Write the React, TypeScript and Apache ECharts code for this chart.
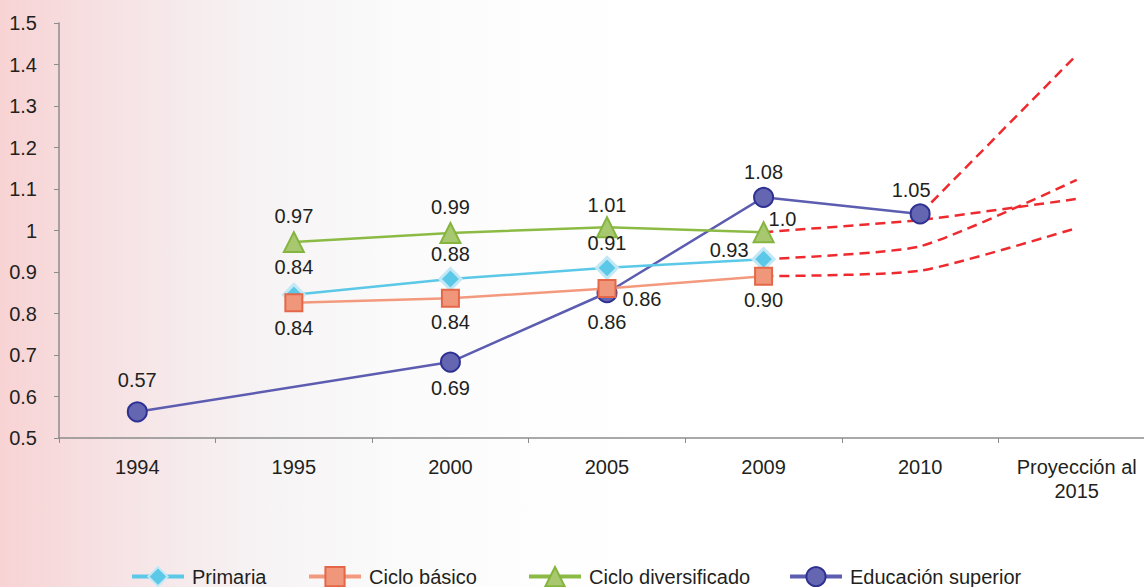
import React, { useEffect, useRef } from "react";
import * as echarts from "echarts";

const categories = ["1994", "1995", "2000", "2005", "2009", "2010", "Proyección al\n2015"];
const yMin = 0.5;
const yMax = 1.5;
const yStep = 0.1;

const primaria = [null, 0.845, 0.883, 0.91, 0.931, null, null];
const primariaLabels = [null, "0.84", "0.88", "0.91", "0.93", null, null];
const cicloBasico = [null, 0.826, 0.837, 0.86, 0.89, null, null];
const cicloBasicoLabels = [null, "0.84", "0.84", "0.86", "0.90", null, null];
const cicloDiversificado = [null, 0.972, 0.994, 1.008, 0.996, null, null];
const cicloDiversificadoLabels = [null, "0.97", "0.99", "1.01", "1.0", null, null];
const educacionSuperior = [0.563, null, 0.683, 0.85, 1.08, 1.04, null];
const educacionSuperiorLabels = ["0.57", null, "0.69", "0.86", "1.08", "1.05", null];

// projections: [2010, 2015]
const proyPrimaria = [0.962, 1.122];
const proyBasico = [0.903, 1.006];
const proyDiversificado = [1.025, 1.076];
// projection: [2015]
const proySuperior = [1.423];

const legendNames = ["Primaria", "Ciclo básico", "Ciclo diversificado", "Educación superior"];

const FONT = "'Liberation Sans', Arial, Helvetica, sans-serif";
const TEXT = "#231f20";
const FS = 20;

type Place = { position?: string; offset?: number[]; distance?: number } | null;

function buildData(values: (number | null)[], labels: (string | null)[], places: Place[]) {
  return values.map((v, i) => {
    if (v == null) return null;
    const p = places[i] || {};
    return {
      value: v,
      label: {
        show: true,
        formatter: labels[i] ?? "",
        position: p.position ?? "top",
        distance: p.distance ?? 6,
        offset: p.offset ?? [0, 0],
      },
    };
  });
}

export default function App() {
  const ref = useRef<HTMLDivElement>(null);

  useEffect(() => {
    if (!ref.current) return;
    const chart = echarts.init(ref.current, undefined, { renderer: "svg" });

    const labelBase = { color: TEXT, fontSize: FS, fontFamily: FONT };
    const dashed = { color: "#ee2a2f", width: 2.5, type: [10, 6] as any };

    const projLine = (name: string, data: (number | null)[], smooth: number) => ({
      name,
      type: "line",
      data,
      symbol: "none",
      smooth,
      lineStyle: dashed,
      z: 1,
      silent: true,
    });

    const projP = [null, null, null, null, primaria[4], proyPrimaria[0], proyPrimaria[1]];
    const projB = [null, null, null, null, cicloBasico[4], proyBasico[0], proyBasico[1]];
    const projD = [null, null, null, null, cicloDiversificado[4], proyDiversificado[0], proyDiversificado[1]];
    const projS = [null, null, null, null, null, educacionSuperior[5], proySuperior[0]];

    const legendLefts = [125, 302, 522, 783];

    chart.setOption({
      animation: false,
      textStyle: { fontFamily: FONT },
      grid: { left: 59, top: 23, width: 1096, height: 415, outerBoundsMode: "none", containLabel: false },
      legend: legendNames.map((name, i) => ({
        data: [name],
        top: 561,
        left: legendLefts[i],
        itemWidth: 52,
        itemHeight: 24,
        lineStyle: { width: 4 },
        textStyle: { color: TEXT, fontSize: FS, fontFamily: FONT, padding: [0, 0, 0, 3] },
      })),
      xAxis: {
        type: "category",
        data: categories,
        boundaryGap: true,
        axisLine: { show: true, lineStyle: { color: "#8c8c8c", width: 1.5 } },
        axisTick: { show: true, length: 5, lineStyle: { color: "#8c8c8c" } },
        axisLabel: { color: TEXT, fontSize: FS, fontFamily: FONT, margin: 17, lineHeight: 24 },
        splitLine: { show: false },
      },
      yAxis: {
        type: "value",
        min: yMin,
        max: yMax,
        interval: yStep,
        axisLine: { show: true, lineStyle: { color: "#8c8c8c", width: 1.5 } },
        axisTick: { show: true, length: 5, lineStyle: { color: "#8c8c8c" } },
        axisLabel: {
          color: TEXT,
          fontSize: FS,
          fontFamily: FONT,
          margin: 22,
          formatter: (v: number) => String(Math.round(v * 10) / 10),
        },
        splitLine: { show: false },
      },
      series: [
        projLine("proyP", projP, 0.2),
        projLine("proyB", projB, 0.2),
        projLine("proyD", projD, 0.1),
        projLine("proyS", projS, 0),
        {
          name: "Primaria",
          type: "line",
          z: 3,
          data: buildData(primaria, primariaLabels, [
            null,
            { position: "top", distance: 6 },
            { position: "top", distance: 3 },
            { position: "top", distance: 3 },
            { position: "left", distance: 5, offset: [2, -9] },
          ]),
          symbol: "diamond",
          symbolSize: 21,
          lineStyle: { color: "#5bc8e8", width: 2.5 },
          itemStyle: { color: "#5bc8e8", borderColor: "#c3e8f5", borderWidth: 3 },
          label: labelBase,
        },
        {
          name: "Ciclo básico",
          type: "line",
          z: 4,
          data: buildData(cicloBasico, cicloBasicoLabels, [
            null,
            { position: "bottom", distance: 6 },
            { position: "bottom", distance: 4 },
            { position: "right", distance: 6, offset: [0, 10] },
            { position: "bottom", distance: 4 },
          ]),
          symbol: "rect",
          symbolSize: 17,
          lineStyle: { color: "#f39a7e", width: 2.5 },
          itemStyle: { color: "#f0977b", borderColor: "#e4674a", borderWidth: 2 },
          label: labelBase,
        },
        {
          name: "Ciclo diversificado",
          type: "line",
          z: 3,
          data: buildData(cicloDiversificado, cicloDiversificadoLabels, [
            null,
            { position: "top", distance: 5 },
            { position: "top", distance: 5 },
            { position: "top", distance: 1 },
            { position: "right", distance: -2, offset: [-4, -13] },
          ]),
          symbol: "triangle",
          symbolSize: 20,
          lineStyle: { color: "#8bbb45", width: 2.5 },
          itemStyle: { color: "#a8c870", borderColor: "#85b43f", borderWidth: 2 },
          label: labelBase,
        },
        {
          name: "Educación superior",
          type: "line",
          z: 2,
          connectNulls: true,
          data: buildData(educacionSuperior, educacionSuperiorLabels, [
            { position: "top", distance: 11 },
            null,
            { position: "bottom", distance: 5 },
            { position: "bottom", distance: 9 },
            { position: "top", distance: 5 },
            { position: "top", distance: 3, offset: [-9, 0] },
          ]),
          symbol: "circle",
          symbolSize: 19,
          lineStyle: { color: "#5c5cb1", width: 2.5 },
          itemStyle: { color: "#6566b2", borderColor: "#2e3192", borderWidth: 2 },
          label: labelBase,
        },
      ],
    });

    return () => chart.dispose();
  }, []);

  return (
    <div
      ref={ref}
      style={{
        position: "absolute",
        left: 0,
        top: 0,
        width: 1144,
        height: 587,
        background:
          "linear-gradient(to right, #f8d3d4 0px, #f6e3e5 120px, #f6f2f3 250px, #fafafa 380px, #fdfdfd 500px, #ffffff 640px)",
      }}
    />
  );
}
